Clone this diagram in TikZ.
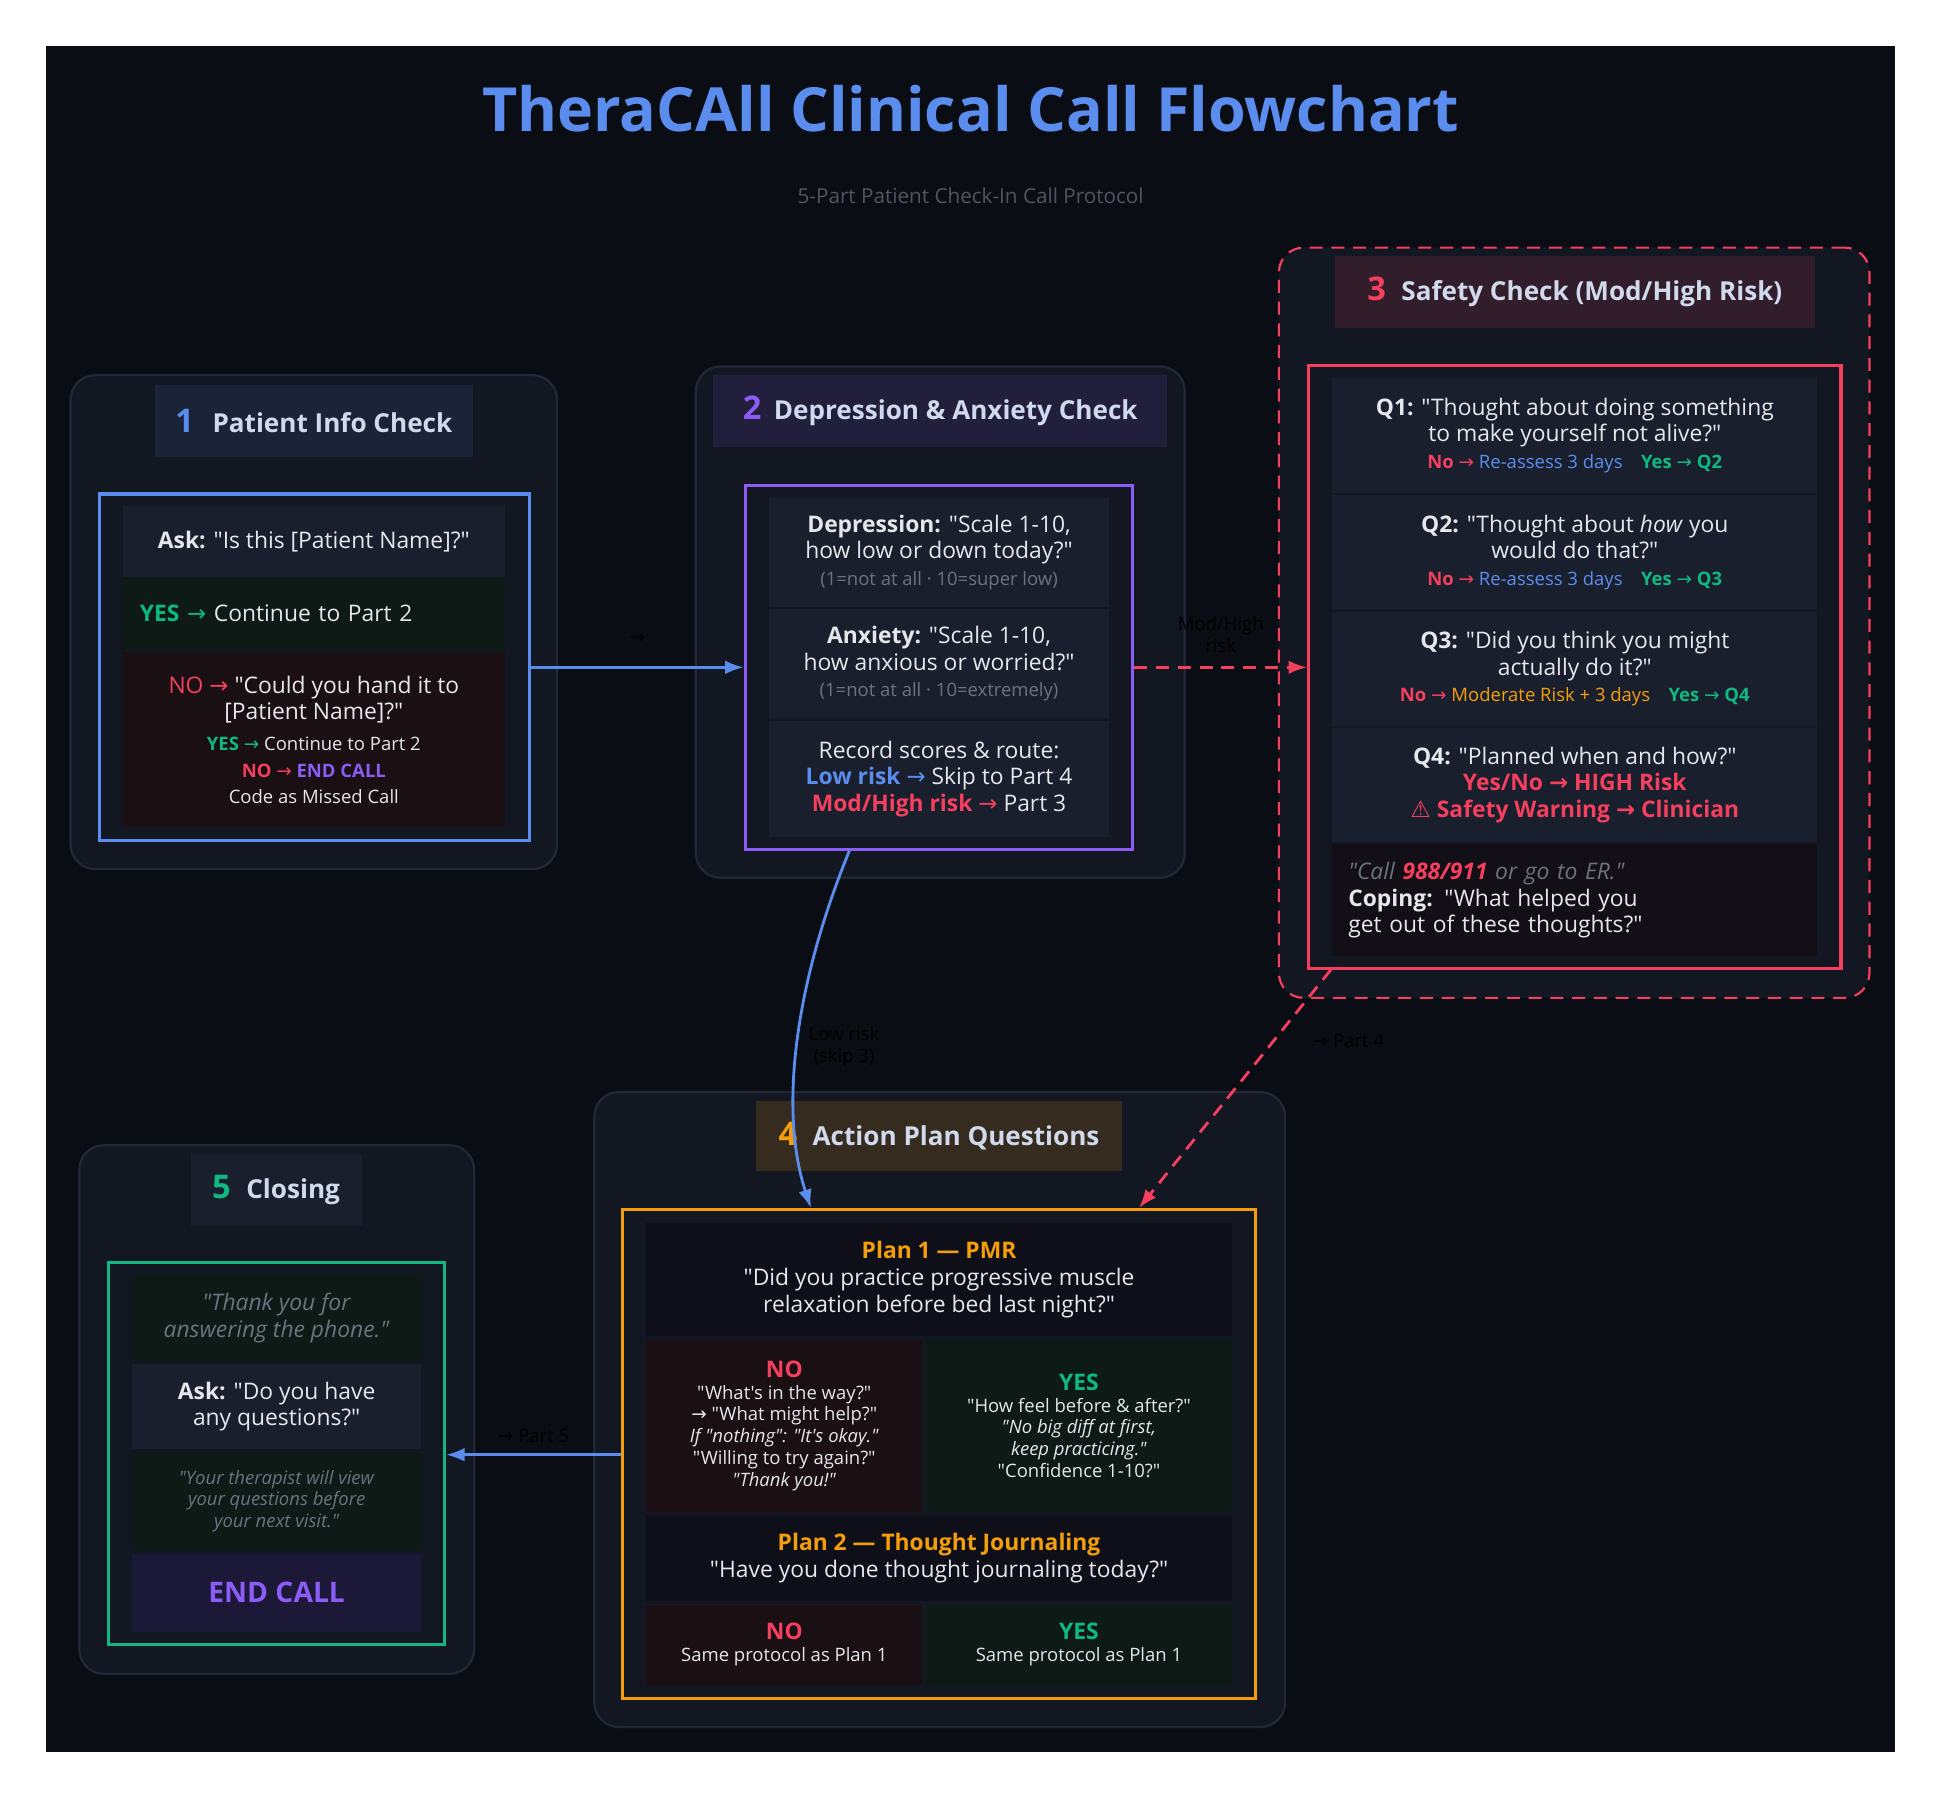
\documentclass[tikz,border=0pt]{standalone}
\usepackage{fontspec}
\setmainfont{Open Sans}[Ligatures=TeXOff]
\newfontfamily\symfont{DejaVu Sans}
\usetikzlibrary{arrows.meta}
\definecolor{bgdark}{HTML}{0B0D14}
\definecolor{panelbg}{HTML}{131722}
\definecolor{panelline}{HTML}{232838}
\definecolor{cellbg}{HTML}{1A1F2E}
\definecolor{cellgreen}{HTML}{0D1A16}
\definecolor{cellred}{HTML}{1A0F12}
\definecolor{cellnight}{HTML}{0F0F1A}
\definecolor{cellcope}{HTML}{130F16}
\definecolor{cellend}{HTML}{1C1838}
\definecolor{txt}{HTML}{E5E7EB}
\definecolor{muted}{HTML}{6B7280}
\definecolor{cblue}{HTML}{5B8DEF}
\definecolor{cpurple}{HTML}{8B5CF6}
\definecolor{cred}{HTML}{F43F5E}
\definecolor{cgreen}{HTML}{10B981}
\definecolor{corange}{HTML}{F59E0B}
\newcommand{\fbody}{\fontsize{10.5}{12.2}\selectfont}
\newcommand{\fsmall}{\fontsize{8.5}{10}\selectfont}
\newcommand{\fhead}{\fontsize{12}{14}\selectfont\bfseries}
\newcommand{\toarr}{{\symfont →}}
\newcommand{\boxat}[7][]{\node[box,#1,minimum width={(#5-#3)*0.02cm},minimum height={(#6-#4)*0.02cm}] (#2) at ({(#3+#5)/2},{(#4+#6)/2}) {#7};}
\tikzset{
  box/.style={inner sep=0pt, align=center, text=txt, font=\fbody},
  panel/.style={fill=panelbg, draw=panelline, line width=1pt, rounded corners=0.4cm},
  head/.style={font=\fhead, text=txt!85!cblue},
  frame/.style={line width=1.4pt},
  flow/.style={-{Latex[length=3mm,width=2.2mm]}, line width=1.3pt},
  flowlabel/.style={text=black, font=\fsmall, align=center}
}
\begin{document}
\begin{tikzpicture}[x=0.02cm,y=-0.02cm]
\useasboundingbox[fill=white] (0,0) rectangle (1567,1451);
\fill[bgdark] (37,37) rectangle (1531,1415);

% title
\node[font=\fontsize{28}{30}\selectfont\bfseries, text=cblue] (title) at (784,88) {TheraCAll Clinical Call Flowchart};
\node[font=\fontsize{9.5}{11}\selectfont, text=muted!75!black] (subtitle) at (784,158) {5-Part Patient Check-In Call Protocol};

% part 1
\boxat[panel]{p1}{57}{303}{450}{702}{}
\boxat[fill=cblue!10!panelbg, head]{h1}{125}{311}{382}{369}{{\fontsize{15}{16}\selectfont\textcolor{cblue}{1}}\hspace{0.3cm}Patient Info Check}
\boxat[draw=cblue, frame]{b1}{80}{399}{428}{679}{}
\boxat[fill=cellbg]{ask1}{99}{409}{408}{466}{\textbf{Ask:} "Is this [Patient Name]?"}
\boxat[fill=cellgreen, inner xsep=0.28cm, text width=5.62cm, align=left]{yes1}{99}{467}{408}{524}{\textcolor{cgreen}{\textbf{YES} \toarr} Continue to Part 2}
\boxat[fill=cellred]{no1}{99}{527}{408}{668}{\textcolor{cred}{NO \toarr} "Could you hand it to\\\relax [Patient Name]?"\\[2pt]
  {\fsmall\textcolor{cgreen}{\textbf{YES} \toarr} Continue to Part 2}\\
  {\fsmall\textcolor{cred}{\textbf{NO} \toarr} \textcolor{cpurple}{\textbf{END CALL}}}\\
  {\fsmall Code as Missed Call}}

% part 2
\boxat[panel]{p2}{562}{296}{957}{709}{}
\boxat[fill=cpurple!12!panelbg, head]{h2}{576}{303}{943}{361}{{\fontsize{15}{16}\selectfont\textcolor{cpurple}{2}}\hspace{0.2cm}Depression \& Anxiety Check}
\boxat[draw=cpurple, frame]{b2}{602}{392}{915}{686}{}
\boxat[fill=cellbg]{dep}{621}{402}{896}{490}{\textbf{Depression:} "Scale 1-10,\\how low or down today?"\\{\fsmall\color{muted}(1=not at all · 10=super low)}}
\boxat[fill=cellbg]{anx}{621}{492}{896}{580}{\textbf{Anxiety:} "Scale 1-10,\\how anxious or worried?"\\{\fsmall\color{muted}(1=not at all · 10=extremely)}}
\boxat[fill=cellbg]{route}{621}{582}{896}{676}{Record scores \& route:\\\textcolor{cblue}{\textbf{Low risk} \toarr} Skip to Part 4\\\textcolor{cred}{\textbf{Mod/High risk} \toarr} Part 3}

% part 3
\boxat[panel, dashed, dash pattern=on 6pt off 4pt, draw=cred]{p3}{1033}{200}{1510}{806}{}
\boxat[fill=cred!14!panelbg, head]{h3}{1078}{207}{1466}{265}{{\fontsize{15}{16}\selectfont\textcolor{cred}{3}}\hspace{0.25cm}Safety Check (Mod/High Risk)}
\boxat[draw=cred, frame]{b3}{1057}{295}{1487}{782}{}
\boxat[fill=cellbg]{q1}{1076}{305}{1468}{398}{\textbf{Q1:} "Thought about doing something\\to make yourself not alive?"\\{\fsmall\textcolor{cred}{\textbf{No} \toarr} \textcolor{cblue}{Re-assess 3 days}\quad\textcolor{cgreen}{\textbf{Yes} \toarr\ \textbf{Q2}}}}
\boxat[fill=cellbg]{q2}{1076}{400}{1468}{492}{\textbf{Q2:} "Thought about \textit{how} you\\would do that?"\\{\fsmall\textcolor{cred}{\textbf{No} \toarr} \textcolor{cblue}{Re-assess 3 days}\quad\textcolor{cgreen}{\textbf{Yes} \toarr\ \textbf{Q3}}}}
\boxat[fill=cellbg]{q3}{1076}{494}{1468}{586}{\textbf{Q3:} "Did you think you might\\actually do it?"\\{\fsmall\textcolor{cred}{\textbf{No} \toarr} \textcolor{corange}{Moderate Risk + 3 days}\quad\textcolor{cgreen}{\textbf{Yes} \toarr\ \textbf{Q4}}}}
\boxat[fill=cellbg]{q4}{1076}{588}{1468}{680}{\textbf{Q4:} "Planned when and how?"\\\textcolor{cred}{\textbf{Yes/No \toarr\ HIGH Risk}}\\\textcolor{cred}{{\symfont ⚠} \textbf{Safety Warning \toarr\ Clinician}}}
\boxat[fill=cellcope, inner xsep=0.26cm, text width=7.32cm, align=left]{cope}{1076}{682}{1468}{772}{\textit{\textcolor{muted}{"Call \textcolor{cred}{\textbf{988/911}} or go to ER."}}\\\textbf{Coping:} "What helped you\\get out of these thoughts?"}

% part 4
\boxat[panel]{p4}{480}{882}{1038}{1395}{}
\boxat[fill=corange!15!panelbg, head]{h4}{611}{889}{906}{946}{{\fontsize{15}{16}\selectfont\textcolor{corange}{4}}\hspace{0.25cm}Action Plan Questions}
\boxat[draw=corange, frame]{b4}{503}{977}{1014}{1372}{}
\boxat[fill=cellnight]{plan1}{522}{988}{995}{1079}{\textcolor{corange}{\textbf{Plan 1 — PMR}}\\"Did you practice progressive muscle\\relaxation before bed last night?"}
\boxat[fill=cellred, font=\fsmall]{no41}{522}{1082}{745}{1221}{{\fbody\textcolor{cred}{\textbf{NO}}}\\"What's in the way?"\\\toarr\ "What might help?"\\\textit{If "nothing": "It's okay."}\\"Willing to try again?"\\\textit{"Thank you!"}}
\boxat[fill=cellgreen, font=\fsmall]{yes41}{748}{1082}{995}{1221}{{\fbody\textcolor{cgreen}{\textbf{YES}}}\\"How feel before \& after?"\\\textit{"No big diff at first,}\\\textit{keep practicing."}\\"Confidence 1-10?"}
\boxat[fill=cellnight]{plan2}{522}{1224}{995}{1293}{\textcolor{corange}{\textbf{Plan 2 — Thought Journaling}}\\"Have you done thought journaling today?"}
\boxat[fill=cellred, font=\fsmall]{no42}{522}{1296}{745}{1361}{{\fbody\textcolor{cred}{\textbf{NO}}}\\Same protocol as Plan 1}
\boxat[fill=cellgreen, font=\fsmall]{yes42}{748}{1296}{995}{1361}{{\fbody\textcolor{cgreen}{\textbf{YES}}}\\Same protocol as Plan 1}

% part 5
\boxat[panel]{p5}{64}{925}{383}{1352}{}
\boxat[fill=cellbg, head]{h5}{154}{932}{292}{990}{{\fontsize{15}{16}\selectfont\textcolor{cgreen}{5}}\hspace{0.25cm}Closing}
\boxat[draw=cgreen, frame]{b5}{88}{1020}{359}{1328}{}
\boxat[fill=cellgreen]{thanks}{107}{1030}{340}{1099}{\textcolor{muted}{\textit{"Thank you for}}\\\textcolor{muted}{\textit{answering the phone."}}}
\boxat[fill=cellbg]{ask5}{107}{1102}{340}{1170}{\textbf{Ask:} "Do you have\\any questions?"}
\boxat[fill=cellgreen, font=\fsmall, text=muted]{visit}{107}{1173}{340}{1252}{\textit{"Your therapist will view}\\\textit{your questions before}\\\textit{your next visit."}}
\boxat[fill=cellend, font=\fontsize{13}{15}\selectfont\bfseries, text=cpurple]{endcall}{107}{1255}{340}{1318}{END CALL}

% connectors
\draw[flow, cblue] (b1.east) -- node[flowlabel, above=0.25cm] {\toarr} (b2.west);
\draw[flow, cred, dashed, dash pattern=on 6pt off 4pt] (b2.east) -- node[flowlabel, above=0.1cm] {Mod/High\\risk} (b2.east -| b3.west);
\draw[flow, cblue] ([xshift=-1.45cm]b2.south) .. controls (640,800) and (630,900) .. node[flowlabel, pos=0.5, right=0.05cm] {Low risk\\(skip 3)} ([xshift=-2.07cm]b4.north);
\draw[flow, cred, dashed, dash pattern=on 6pt off 4pt] ([xshift=-3.94cm]b3.south) -- node[flowlabel, pos=0.3, right=0.5cm] {\toarr\ Part 4} ([xshift=3.23cm]b4.north);
\draw[flow, cblue] (b4.west |- 0,1175) -- node[flowlabel, above=0.05cm] {\toarr\ Part 5} (b5.east |- 0,1175);
\end{tikzpicture}
\end{document}
